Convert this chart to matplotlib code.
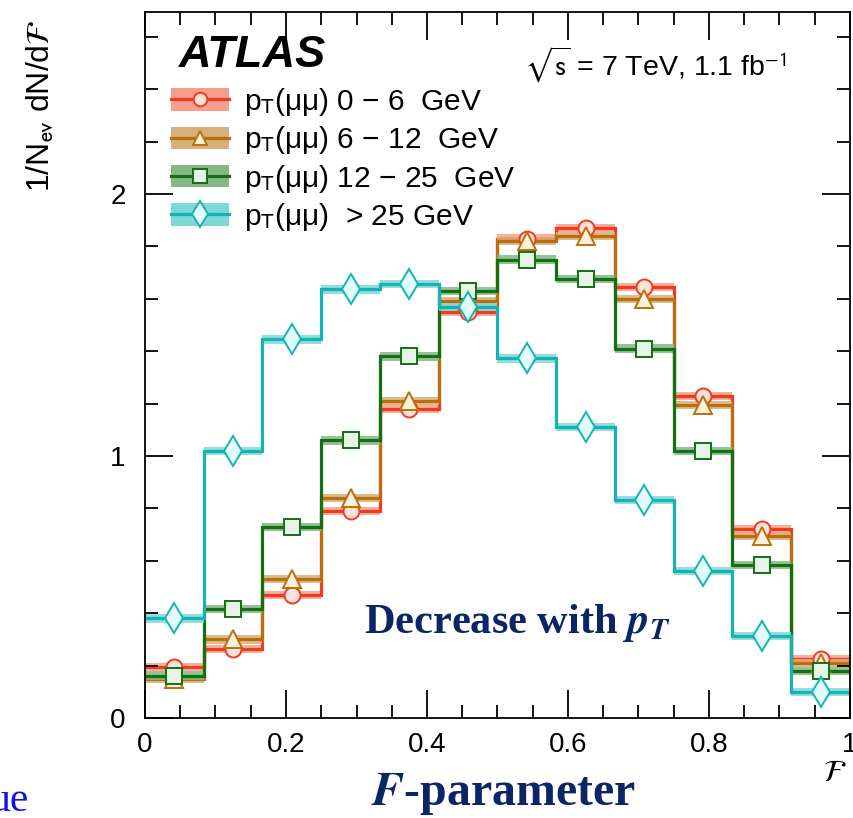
import numpy as np
import matplotlib
matplotlib.use("Agg")
import matplotlib.pyplot as plt
from matplotlib.patches import Patch
from matplotlib.lines import Line2D
from matplotlib.ticker import MultipleLocator

plt.rcParams['font.family'] = ['Liberation Sans', 'DejaVu Sans']
plt.rcParams['mathtext.fontset'] = 'stixsans'

# ---- data ----
bin_edges = np.linspace(0, 1, 13)
labels = [r"p$_{\rm T}$(μμ) 0 − 6  GeV",
          r"p$_{\rm T}$(μμ) 6 − 12  GeV",
          r"p$_{\rm T}$(μμ) 12 − 25  GeV",
          r"p$_{\rm T}$(μμ)  > 25 GeV"]
pt_0_6 = [0.195, 0.263, 0.47, 0.79, 1.18, 1.55, 1.83, 1.87, 1.645, 1.23, 0.72, 0.225]
pt_6_12 = [0.149, 0.30, 0.53, 0.84, 1.21, 1.59, 1.82, 1.84, 1.60, 1.195, 0.695, 0.21]
pt_12_25 = [0.162, 0.416, 0.73, 1.06, 1.38, 1.63, 1.75, 1.675, 1.41, 1.02, 0.584, 0.18]
pt_25_up = [0.38, 1.02, 1.445, 1.636, 1.656, 1.57, 1.373, 1.11, 0.832, 0.562, 0.313, 0.099]
band_err = 0.016

series = [pt_0_6, pt_6_12, pt_12_25, pt_25_up]
line_colors = ['#f03c1e', '#b8700c', '#137013', '#14b4b4']
band_colors = ['#f5a08c', '#d8b078', '#86b886', '#7fd8d8']
face_colors = ['#fde2dc', '#fdf0dc', '#e6f3e6', '#e2fcfc']
markers = ['o', '^', 's', 'd']
msizes = [11.5, 12.5, 11.5, 15]

fig = plt.figure(figsize=(8.54, 8.18), dpi=100)
ax = fig.add_axes([145/854, 1-718/818, 705/854, 706/818])

centers = 0.5 * (bin_edges[:-1] + bin_edges[1:])
handles = []
for vals, lc, bc, fc, mk, ms, lab in zip(series, line_colors, band_colors,
                                         face_colors, markers, msizes, labels):
    v = np.asarray(vals)
    ax.stairs(v + band_err, bin_edges, baseline=v - band_err, fill=True,
              color=bc, alpha=0.85, lw=0)
    ax.stairs(v, bin_edges, baseline=None, color=lc, lw=2.3)
    ax.plot(centers, v, ls='none', marker=mk, ms=ms, mfc=fc, mec=lc, mew=1.4)
    handles.append((Patch(facecolor=bc, edgecolor='none'),
                    Line2D([], [], color=lc, lw=2.3, marker=mk, ms=ms * 0.85,
                           mfc=fc, mec=lc, mew=1.4)))

ax.set_xlim(0, 1)
ax.set_ylim(0, 2.695)
ax.xaxis.set_major_locator(MultipleLocator(0.2))
ax.xaxis.set_minor_locator(MultipleLocator(0.05))
ax.yaxis.set_major_locator(MultipleLocator(1))
ax.yaxis.set_minor_locator(MultipleLocator(0.2))
ax.xaxis.set_major_formatter(plt.FuncFormatter(lambda x, p: f"{x:g}"))
ax.tick_params(which='both', direction='in', top=True, right=True,
               width=1.3, labelsize=20)
ax.tick_params(which='major', length=20)
ax.tick_params(which='minor', length=9.5)
ax.tick_params(axis='y', pad=14)
ax.tick_params(axis='x', pad=10)
for s in ax.spines.values():
    s.set_linewidth(1.3)

ax.set_ylabel(r"1/N$_{\rm ev}$ dN/d$\mathcal{F}$", fontsize=23, loc='top')
ax.yaxis.set_label_coords(-0.125, 0.99)

ax.text(0.979, -0.078, r"$\mathcal{F}$", transform=ax.transAxes,
        fontsize=22, ha='center', va='center')

ax.text(0.048, 0.939, "ATLAS", transform=ax.transAxes, fontsize=32.5,
        fontweight='bold', fontstyle='italic', ha='left', va='center')
ax.text(0.91, 0.925, r"$\sqrt{\rm s}$ = 7 TeV, 1.1 fb$^{-1}$",
        transform=ax.transAxes, fontsize=20.5, ha='right', va='center')

leg = ax.legend(handles, labels, loc='upper left', bbox_to_anchor=(0.02, 0.912),
                frameon=False, fontsize=21.5, handlelength=1.95, handleheight=0.78,
                labelspacing=0.21, handletextpad=0.5, borderaxespad=0)

navy = '#0b2566'
ax.text(0.528, 0.121, r"Decrease with $\mathbfit{p_T}$", transform=ax.transAxes,
        fontsize=30.5, family='Liberation Serif', fontweight='bold', color=navy,
        math_fontfamily='stix', ha='center', va='baseline')
fig.text(0.589, 0.0165, r"$\mathbfit{F}$-parameter", fontsize=34.5,
         family='Liberation Serif', fontweight='bold', color=navy,
         math_fontfamily='stix', ha='center', va='baseline')
fig.text(-0.012, 0.008, "ue", fontsize=30, family='Liberation Serif',
         color='#1010f0', ha='left', va='baseline')

fig.savefig("out.png", dpi=100)
